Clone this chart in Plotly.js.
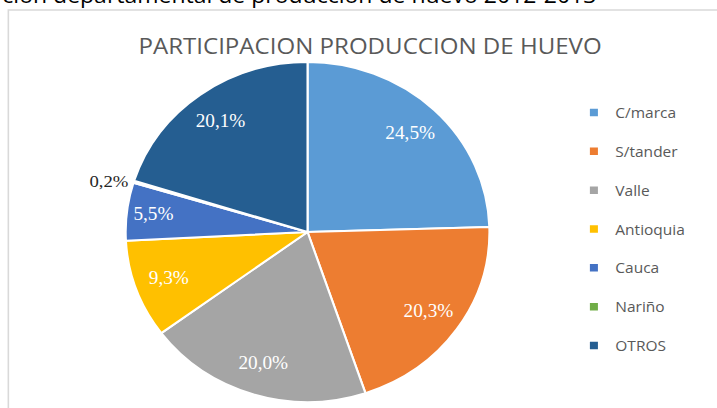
<!DOCTYPE html>
<html>
<head>
<meta charset="utf-8">
<script src="https://cdn.plot.ly/plotly-3.0.1.min.js"></script>
<style>
  html, body { margin: 0; padding: 0; background: #fff; overflow: hidden; }
  #wrap { width: 717px; height: 408px; overflow: hidden; position: relative; }
  #chart { width: 670px; height: 408px; transform: scaleX(1.0701); transform-origin: 0 0; }
</style>
</head>
<body>
<div id="wrap"><div id="chart"></div></div>
<script>
const categories = ["C/marca", "S/tander", "Valle", "Antioquia", "Cauca", "Nariño", "OTROS"];
const shares = [24.5, 20.3, 20.0, 9.3, 5.5, 0.2, 20.1];
const colors = ["#5B9BD5", "#ED7D31", "#A5A5A5", "#FFC000", "#4472C4", "#70AD47", "#255E91"];
const chartTitle = "PARTICIPACION PRODUCCION DE HUEVO";
const captionText = "ción departamental de producción de huevo 2012-2013";

const W = 670, H = 408;
const px = (x) => x / W;
const py = (y) => 1 - y / H;

const pieDomain = { x: [px(287.4 - 170), px(287.4 + 170)], y: [py(402), py(62)] };
const textPos = shares.map(v => v < 1 ? "outside" : "inside");
const serif = "Liberation Serif, Times New Roman, serif";

// filled pie (no text)
const pie = {
  type: "pie",
  labels: categories,
  values: shares,
  sort: false,
  direction: "clockwise",
  rotation: 0,
  marker: { colors: colors, line: { color: "#FFFFFF", width: 2 } },
  textinfo: "none",
  hoverinfo: "label+percent",
  showlegend: false,
  domain: pieDomain
};

// transparent ring carrying the data labels (places them at ~0.8 r like the reference)
const labelRing = {
  type: "pie",
  labels: categories,
  values: shares,
  sort: false,
  direction: "clockwise",
  rotation: 0,
  hole: 0.62,
  marker: { colors: categories.map(() => "rgba(0,0,0,0)"), line: { width: 0 } },
  texttemplate: "%{value:.1f}%",
  textposition: textPos,
  insidetextorientation: "horizontal",
  insidetextfont: { family: serif, size: 18, color: "#FFFFFF" },
  outsidetextfont: { family: serif, size: 17.5, color: "#262626" },
  hoverinfo: "skip",
  showlegend: false,
  domain: pieDomain
};

const legendTraces = categories.map((c, i) => ({
  type: "scatter",
  mode: "markers",
  x: [null], y: [null],
  name: c,
  legendgroup: "g" + i,
  marker: { symbol: "square", size: 7.5, color: colors[i] },
  hoverinfo: "skip"
}));

const layout = {
  width: W, height: H,
  margin: { l: 0, r: 0, t: 0, b: 0 },
  paper_bgcolor: "#FFFFFF",
  plot_bgcolor: "#FFFFFF",
  separators: ",.",
  xaxis: { visible: false },
  yaxis: { visible: false },
  title: {
    text: chartTitle,
    font: { family: "Open Sans, sans-serif", size: 22.5, color: "#595959" },
    x: px(345.8), xanchor: "center",
    y: py(46), yanchor: "middle", yref: "container", xref: "container"
  },
  showlegend: true,
  legend: {
    x: px(535), xanchor: "left",
    y: py(96.5), yanchor: "top",
    font: { family: "Open Sans, sans-serif", size: 14.5, color: "#595959" },
    tracegroupgap: 17,
    itemwidth: 30,
    bgcolor: "rgba(0,0,0,0)"
  },
  shapes: [{
    type: "rect", xref: "paper", yref: "paper",
    x0: px(7.8), x1: px(W + 20), y0: py(H + 20), y1: py(10),
    line: { color: "#D9D9D9", width: 1.5 }, fillcolor: "rgba(0,0,0,0)", layer: "below"
  }],
  annotations: [{
    text: captionText, showarrow: false,
    xref: "paper", yref: "paper",
    x: 0, xanchor: "left",
    y: py(11), yanchor: "bottom",
    font: { family: "Open Sans, sans-serif", size: 21.5, color: "#000000" }
  }]
};

Plotly.newPlot("chart", [pie, labelRing, ...legendTraces], layout, { displayModeBar: false, staticPlot: true });
</script>
</body>
</html>
